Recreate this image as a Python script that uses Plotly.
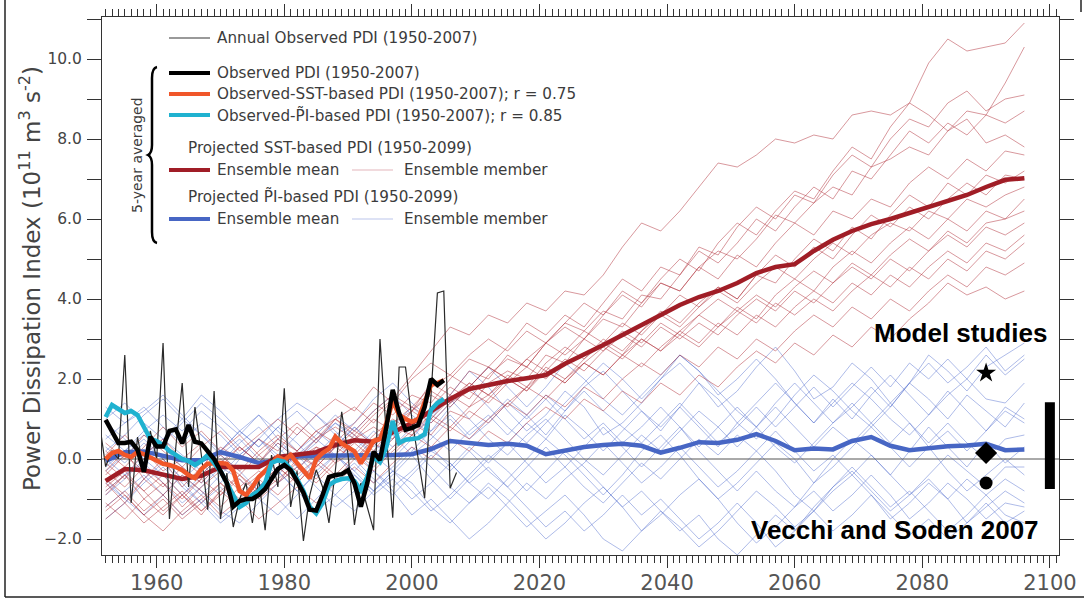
import plotly.graph_objects as go

# ---------------------------------------------------------------- data
# Annual observed PDI, 1951-2007 (10^11 m^3 s^-2 anomaly)
ANNUAL_YEARS = list(range(1951, 2008))
ANNUAL_PDI = [0.93, -0.19, 0.2, 0.0, 2.6, -1.1, 0.55, -0.3, 0.7, 0.0,
              2.9, -1.5, 0.3, 1.9, -0.7, 1.3, 0.1, -1.27, 1.7, -1.5,
              -0.35, -1.7, -1.0, -0.6, -1.6, -0.5, -1.78, 0.1, -0.7, 1.77,
              -1.2, -0.3, -2.05, -0.9, -0.27, -0.7, -1.6, -0.3, 1.18, 0.1,
              -1.65, -0.6, -1.2, -1.78, 3.0, 0.6, -1.47, 2.3, 2.3, 1.0,
              0.0, -0.98, 1.6, 4.15, 4.2, -0.73, -0.34]

# 5-year averaged observed series, 1952-2005
OBS_YEARS = list(range(1952, 2006))
OBS_PDI = [0.98, 0.7, 0.4, 0.4, 0.43, 0.23, -0.32, 0.56, 0.31, 0.31,
           0.7, 0.74, 0.39, 0.85, 0.43, 0.39, 0.2, 0.0, -0.3, -0.6,
           -1.19, -1.05, -1.0, -1.0, -0.9, -0.75, -0.5, -0.25, -0.15, -0.28,
           -0.55, -0.85, -1.27, -1.29, -0.9, -0.45, -0.4, -0.38, -0.28, -0.61,
           -1.19, -0.61, 0.18, -0.03, 0.8, 1.73, 1.15, 0.73, 0.78, 0.85,
           1.3, 2.0, 1.85, 1.97]
OBS_SST_PDI = [0.0, 0.15, 0.2, 0.1, 0.05, 0.18, 0.12, 0.05, -0.05, -0.12,
               -0.15, -0.2, -0.28, -0.4, -0.48, -0.25, -0.12, -0.1, -0.1, -0.12,
               -0.3, -0.8, -0.9, -0.7, -0.45, -0.3, -0.1, 0.06, -0.03, 0.1,
               -0.1, -0.3, -0.48, 0.0, 0.15, 0.25, 0.56, 0.39, 0.28, 0.19,
               -0.11, 0.19, 0.45, 0.5, 0.9, 1.45, 1.1, 1.0, 0.93, 1.0,
               1.4, 1.85, 1.9, 1.97]
OBS_PI_PDI = [1.05, 1.35, 1.25, 1.15, 1.2, 1.1, 0.8, 0.5, 0.45, 0.35,
              0.2, 0.1, 0.0, -0.05, -0.15, -0.05, 0.1, -0.1, -0.3, -0.6,
              -0.9, -1.2, -1.1, -0.9, -0.8, -0.6, -0.1, -0.03, -0.07, -0.25,
              -0.5, -0.8, -1.2, -1.36, -1.1, -0.65, -0.55, -0.5, -0.48, -0.55,
              -0.78, -0.45, 0.05, -0.08, 0.3, 0.95, 0.4, 0.48, 0.5, 0.52,
              0.62, 1.23, 1.4, 1.5]

# Projected series (5-year averaged), every third year 1952-2096
PROJ_YEARS = list(range(1952, 2097, 3))
SST_MEAN = [-0.55, -0.25, -0.28, -0.38, -0.5, -0.42, -0.2, -0.2, -0.2, 0.05,
            0.1, 0.17, 0.35, 0.47, 0.43, 0.65, 0.9, 1.2, 1.5, 1.75,
            1.85, 1.95, 2.02, 2.1, 2.38, 2.6, 2.85, 3.1, 3.35, 3.6,
            3.85, 4.05, 4.2, 4.4, 4.65, 4.8, 4.87, 5.2, 5.48, 5.7,
            5.87, 6.0, 6.15, 6.3, 6.45, 6.6, 6.8, 6.98, 7.02]
PI_MEAN = [-0.05, 0.17, 0.19, 0.08, -0.03, -0.03, 0.17, 0.05, -0.1, -0.03,
           0.07, 0.08, 0.08, 0.1, 0.1, 0.1, 0.12, 0.25, 0.45, 0.4,
           0.35, 0.38, 0.33, 0.12, 0.22, 0.3, 0.35, 0.38, 0.33, 0.16,
           0.28, 0.42, 0.4, 0.48, 0.62, 0.45, 0.22, 0.26, 0.24, 0.45,
           0.55, 0.33, 0.22, 0.28, 0.32, 0.34, 0.38, 0.22, 0.24]

SST_RUN_01 = [-0.3, 0.2, -0.5, 0.0, -0.7, -0.2, 0.3, 0.0, 0.5, 0.2, 0.8, 0.4, 1.0, 1.3, 0.9, 1.5, 2.1, 2.7, 3.3, 3.1, 3.6, 3.4, 3.9, 3.7, 4.2, 4.1, 4.6, 5.3, 5.9, 5.7, 6.2, 6.8, 7.4, 7.3, 7.6, 8.0, 7.9, 8.1, 8.0, 8.6, 8.7, 8.6, 8.9, 9.9, 10.5, 10.2, 10.3, 10.4, 10.9]
SST_RUN_02 = [-0.8, -0.4, -1.0, -0.6, -1.2, -0.7, -0.3, -0.8, -0.4, 0.0, -0.3, 0.3, 0.1, 0.6, 0.2, 0.8, 0.6, 1.1, 1.6, 1.3, 1.9, 2.2, 2.0, 2.6, 2.4, 3.0, 3.5, 3.3, 3.9, 4.4, 4.2, 4.8, 5.2, 5.0, 5.5, 6.1, 5.9, 6.4, 6.8, 6.6, 7.3, 7.5, 7.8, 7.6, 8.2, 8.7, 8.6, 9.4, 10.3]
SST_RUN_03 = [-0.1, -0.5, 0.2, -0.3, 0.0, 0.4, -0.2, 0.3, -0.1, 0.5, 0.2, 0.7, 0.4, 0.9, 1.4, 1.1, 1.6, 1.4, 2.0, 2.5, 2.3, 2.8, 3.4, 3.1, 3.6, 3.3, 3.9, 4.5, 4.2, 4.8, 4.6, 5.3, 5.1, 5.8, 6.3, 6.0, 6.6, 6.4, 7.1, 7.6, 7.3, 8.0, 8.5, 8.3, 8.9, 9.2, 8.7, 9.0, 9.1]
SST_RUN_04 = [-0.6, -1.1, -0.5, -0.9, -0.4, -0.8, -1.2, -0.7, -0.3, -0.6, 0.0, 0.3, -0.1, 0.5, 0.8, 0.5, 1.2, 1.9, 1.6, 2.2, 2.0, 2.6, 2.3, 2.9, 3.4, 3.2, 3.7, 3.5, 4.1, 4.0, 4.6, 5.2, 4.9, 5.4, 6.0, 5.7, 6.3, 6.8, 6.5, 7.2, 7.0, 7.6, 8.2, 7.9, 8.4, 8.1, 8.6, 8.4, 8.7]
SST_RUN_05 = [-1.2, -0.8, -1.3, -0.9, -1.4, -1.0, -0.6, -1.1, -0.7, -0.2, -0.6, -0.1, 0.4, 0.1, 0.6, 1.0, 0.7, 1.3, 1.8, 1.5, 2.1, 2.5, 2.3, 2.9, 3.3, 3.0, 3.6, 4.2, 3.9, 4.5, 5.0, 4.7, 5.4, 5.9, 5.6, 6.2, 6.7, 6.5, 7.2, 7.8, 7.5, 8.3, 8.9, 8.6, 8.2, 8.5, 7.9, 8.1, 7.8]
SST_RUN_06 = [0.4, 0.0, 0.6, 0.2, -0.2, 0.3, 0.7, 0.2, 0.6, 1.0, 0.6, 1.1, 1.5, 1.2, 1.8, 1.4, 2.0, 2.4, 2.1, 2.6, 3.0, 2.7, 3.2, 2.9, 3.4, 3.9, 3.6, 4.1, 3.8, 4.4, 4.2, 4.8, 4.5, 5.1, 4.8, 5.4, 5.9, 5.6, 6.2, 6.0, 6.5, 6.3, 6.9, 7.3, 7.0, 7.5, 7.2, 7.7, 7.6]
SST_RUN_07 = [-0.9, -0.4, -0.8, -1.3, -0.9, -1.4, -0.8, -0.4, -0.9, -0.5, -0.1, -0.5, 0.0, 0.4, 0.0, 0.5, 0.9, 0.6, 1.2, 1.0, 1.5, 2.0, 1.7, 2.3, 2.0, 2.5, 2.9, 2.6, 3.2, 3.7, 3.4, 3.9, 4.3, 4.0, 4.6, 4.4, 5.0, 5.5, 5.2, 5.8, 5.5, 6.1, 6.6, 6.3, 6.9, 6.6, 7.1, 6.9, 7.2]
SST_RUN_08 = [-0.3, -0.7, -0.2, -0.6, -1.0, -0.5, -0.9, -0.4, -0.8, -0.3, 0.1, -0.2, 0.3, 0.0, 0.5, 0.9, 1.3, 1.0, 1.5, 1.9, 1.6, 2.1, 1.8, 2.4, 2.8, 2.5, 3.0, 2.7, 3.2, 3.6, 3.3, 3.8, 4.2, 3.9, 4.4, 4.8, 4.5, 5.0, 5.4, 5.1, 5.6, 5.9, 5.7, 6.2, 6.0, 6.5, 6.3, 6.6, 6.8]
SST_RUN_09 = [-1.5, -1.1, -1.6, -1.2, -0.8, -1.3, -0.9, -0.5, -1.0, -0.6, -0.2, -0.6, -0.1, 0.2, -0.2, 0.3, 0.7, 1.1, 0.8, 1.3, 1.6, 1.3, 1.8, 2.2, 1.9, 2.4, 2.1, 2.6, 3.0, 2.7, 3.2, 3.6, 3.3, 3.8, 3.5, 4.1, 4.5, 4.2, 4.8, 5.2, 4.9, 5.4, 5.8, 5.5, 6.0, 5.7, 6.2, 6.0, 6.5]
SST_RUN_10 = [0.1, 0.6, 0.1, 0.5, 0.0, -0.4, 0.1, -0.3, 0.2, 0.6, 0.2, 0.7, 1.0, 0.7, 1.2, 1.6, 1.3, 1.8, 2.1, 1.8, 2.3, 2.0, 2.5, 2.9, 2.6, 3.0, 2.7, 3.2, 2.9, 3.4, 3.1, 3.6, 4.0, 3.7, 4.1, 3.8, 4.3, 4.7, 4.4, 4.9, 4.6, 5.1, 5.5, 5.2, 5.7, 5.4, 5.9, 6.0, 6.2]
SST_RUN_11 = [-0.7, -0.3, -0.8, -0.4, -0.9, -0.5, 0.0, -0.4, 0.1, -0.3, 0.2, -0.2, 0.3, 0.7, 0.4, 0.9, 1.2, 0.9, 1.4, 1.7, 1.4, 1.9, 2.3, 2.0, 2.5, 2.2, 2.7, 3.1, 2.8, 3.3, 3.0, 3.4, 3.1, 3.6, 4.0, 3.7, 4.2, 3.9, 4.4, 4.8, 4.5, 5.0, 4.7, 5.2, 5.6, 5.3, 5.8, 5.6, 5.9]
SST_RUN_12 = [-1.1, -1.5, -1.0, -1.4, -0.9, -1.3, -0.8, -1.2, -0.7, -0.2, -0.6, -0.1, -0.5, 0.0, 0.4, 0.1, 0.6, 1.0, 0.7, 1.2, 0.9, 1.4, 1.8, 1.5, 2.0, 2.4, 2.1, 2.6, 2.3, 2.8, 3.2, 2.9, 3.4, 3.1, 3.6, 3.3, 3.8, 4.2, 3.9, 4.4, 4.1, 4.6, 4.3, 4.8, 5.2, 4.9, 5.4, 5.2, 5.6]
SST_RUN_13 = [0.2, -0.2, 0.3, 0.8, 0.3, 0.7, 0.2, 0.6, 0.1, 0.5, 0.9, 0.5, 1.0, 0.6, 1.1, 1.5, 1.2, 1.7, 1.4, 1.9, 1.6, 2.0, 1.7, 2.2, 1.9, 2.4, 2.8, 2.5, 3.0, 2.7, 3.1, 2.8, 3.3, 3.7, 3.4, 3.9, 3.6, 4.0, 3.7, 4.2, 4.6, 4.3, 4.8, 4.5, 5.0, 4.7, 5.2, 5.0, 5.4]
SST_RUN_14 = [-0.5, -0.9, -1.4, -1.0, -1.5, -1.1, -0.6, -1.0, -0.5, -0.9, -0.4, 0.0, -0.4, 0.1, -0.3, 0.2, 0.6, 0.3, 0.8, 0.5, 1.0, 1.4, 1.1, 1.6, 1.3, 1.8, 1.5, 2.0, 2.4, 2.1, 2.6, 2.3, 2.8, 2.5, 3.0, 2.7, 3.2, 3.6, 3.3, 3.8, 3.5, 4.0, 3.7, 4.2, 4.6, 4.3, 4.8, 4.6, 4.9]
SST_RUN_15 = [-1.3, -0.9, -1.4, -1.8, -1.3, -0.9, -1.4, -1.0, -1.5, -1.1, -0.7, -1.1, -0.6, -0.2, -0.6, -0.1, 0.3, 0.0, 0.5, 0.2, 0.7, 0.4, 0.9, 1.3, 1.0, 1.5, 1.2, 1.7, 1.4, 1.9, 1.6, 2.1, 1.8, 2.3, 2.7, 2.4, 2.9, 2.6, 3.1, 2.8, 3.3, 3.0, 3.5, 3.9, 4.4, 4.1, 4.3, 4.0, 4.2]
SST_RUN_16 = [-0.4, 0.1, -0.3, -0.7, -0.2, -0.6, -0.1, 0.3, -0.1, 0.4, 0.0, 0.5, 0.8, 0.5, 1.0, 0.7, 1.2, 1.6, 1.3, 1.8, 2.3, 2.0, 2.5, 2.2, 2.7, 3.2, 2.9, 3.4, 3.1, 3.6, 4.1, 3.8, 4.3, 4.0, 4.6, 5.1, 4.8, 5.3, 5.0, 5.6, 6.1, 5.8, 6.3, 6.0, 6.5, 6.9, 6.6, 7.1, 7.0]

PI_RUN_01 = [0.5, 0.9, 1.3, 0.8, 0.4, 0.9, 0.6, 0.1, 0.5, 1.0,
             1.4, 1.1, 0.6, 0.9, 1.5, 1.9, 1.4, 1.0, 1.6, 2.2,
             1.8, 1.2, 0.7, 1.1, 1.7, 1.3, 0.6, 0.9, 1.4, 2.0,
             2.4, 1.9, 1.3, 1.7, 2.3, 2.8, 2.2, 1.5, 1.8, 2.4,
             2.0, 1.4, 1.9, 2.6, 2.2, 1.7, 2.3, 2.6, 2.9]
PI_RUN_02 = [-0.8, -0.4, -0.1, -0.6, -1.1, -0.7, -0.2, -0.5, -1.0, -1.4,
             -0.9, -0.3, 0.1, -0.4, -0.8, -0.3, -0.6, -1.2, -1.6, -1.1,
             -0.6, -1.0, -1.5, -2.0, -1.6, -1.1, -0.7, -1.2, -1.8, -1.4,
             -0.9, -0.5, -1.0, -1.6, -2.1, -1.7, -1.2, -0.8, -1.3, -0.9,
             -0.4, -0.9, -1.5, -1.1, -0.6, -1.0, -1.5, -1.1, -1.2]
PI_RUN_03 = [1.3, 0.9, 1.2, 1.6, 1.1, 0.6, 0.2, 0.7, 1.1, 0.5,
             0.0, 0.4, 0.9, 0.6, 0.1, -0.3, 0.2, 0.7, 1.1, 0.6,
             1.0, 1.5, 1.1, 0.6, 1.2, 1.8, 2.2, 1.7, 1.2, 0.8,
             1.3, 1.9, 1.5, 0.9, 0.5, 1.0, 1.6, 2.1, 1.7, 1.2,
             0.8, 1.3, 1.9, 1.5, 1.0, 1.6, 1.2, 0.8, 1.4]
PI_RUN_04 = [-0.2, 0.2, 0.6, 0.3, -0.2, -0.6, -0.1, 0.4, 0.8, 0.3,
             -0.2, 0.1, 0.6, 0.2, -0.3, -0.7, -0.3, 0.2, -0.1, -0.6,
             -1.0, -0.5, 0.0, 0.5, 0.1, -0.4, -0.9, -0.4, 0.2, 0.6,
             0.1, -0.5, -1.0, -0.6, -0.1, 0.4, 0.0, -0.6, -0.2, 0.3,
             0.8, 0.3, -0.2, 0.3, -0.3, -0.8, -0.4, 0.0, -0.4]
PI_RUN_05 = [-1.2, -0.8, -0.4, -0.9, -1.4, -1.0, -1.5, -1.1, -0.6, -1.0,
             -1.5, -1.0, -0.5, -0.1, -0.6, -0.2, 0.3, -0.2, -0.7, -1.1,
             -0.7, -1.2, -1.7, -1.3, -0.9, -1.4, -2.0, -2.3, -1.8, -1.3,
             -1.7, -2.2, -1.8, -1.3, -0.8, -1.2, -1.7, -1.3, -0.7, -0.3,
             -0.8, -1.3, -0.9, -0.5, -1.0, -1.6, -1.2, -0.8, -1.1]
PI_RUN_06 = [0.9, 0.5, 0.0, 0.4, 0.9, 1.4, 1.0, 0.6, 1.1, 0.7,
             0.2, 0.6, 1.1, 0.7, 1.2, 1.6, 1.1, 0.7, 1.3, 1.8,
             2.3, 1.8, 1.3, 1.8, 2.4, 2.0, 1.5, 1.1, 1.6, 2.1,
             2.6, 2.2, 1.6, 2.0, 2.5, 2.0, 1.4, 0.9, 1.4, 1.9,
             1.5, 1.0, 0.6, 1.1, 1.6, 2.0, 1.5, 1.4, 1.9]
PI_RUN_07 = [-0.5, -1.0, -1.4, -0.9, -0.4, -0.8, -1.3, -1.6, -1.1, -0.6,
             -0.2, -0.7, -1.2, -0.8, -0.3, -0.8, -1.4, -1.0, -1.5, -2.0,
             -1.6, -1.1, -0.6, -1.0, -0.5, -0.1, 0.4, -0.1, -0.6, -0.2,
             0.3, -0.2, -0.7, -0.3, 0.2, -0.3, -0.9, -1.3, -0.8, -0.4,
             -0.9, -1.5, -1.1, -0.6, -1.0, -0.5, -0.9, -0.5, -0.8]
PI_RUN_08 = [0.2, 0.6, 1.1, 1.5, 1.0, 1.6, 1.2, 0.7, 0.3, 0.8,
             0.4, -0.1, 0.3, 0.8, 0.4, 0.0, 0.5, 1.1, 1.5, 1.0,
             0.5, 0.1, 0.6, 1.0, 0.5, 0.0, -0.4, 0.1, 0.6, 0.2,
             0.7, 1.2, 0.8, 0.3, 0.8, 1.4, 1.9, 1.4, 0.9, 1.3,
             1.8, 1.3, 1.9, 2.4, 1.9, 2.3, 2.8, 2.2, 2.6]
PI_RUN_09 = [-1.5, -1.1, -0.6, -0.2, -0.7, -1.1, -1.6, -1.2, -0.7, -0.3,
             -0.8, -0.4, 0.1, -0.3, -0.8, -0.4, 0.1, -0.5, -1.0, -0.5,
             0.0, 0.4, -0.1, -0.6, -0.2, 0.3, 0.8, 0.3, -0.2, 0.3,
             0.8, 0.2, -0.3, -0.8, -0.3, -0.8, -1.2, -0.6, 0.0, 0.5,
             0.1, -0.4, 0.2, 0.8, 0.3, -0.2, 0.4, -0.1, 0.3]
PI_RUN_10 = [0.0, -0.4, 0.1, 0.5, 0.1, -0.3, 0.2, 0.7, 0.3, 0.8,
             1.2, 0.7, 0.3, 0.8, 0.3, 0.8, 1.3, 0.9, 1.4, 1.8,
             1.3, 0.8, 0.4, 0.9, 1.4, 1.9, 2.4, 2.0, 1.5, 2.0,
             2.6, 2.2, 1.7, 1.2, 0.8, 1.3, 0.8, 0.3, 0.8, 0.4,
             0.9, 1.4, 0.9, 0.4, 0.9, 0.4, 0.0, 0.5, 0.6]
PI_RUN_11 = [-0.9, -0.5, 0.0, -0.4, -0.9, -0.4, 0.1, -0.3, -0.8, -0.3,
             0.1, -0.4, -0.9, -1.3, -0.8, -0.3, -0.8, -1.3, -0.9, -0.4,
             0.1, -0.3, -0.8, -0.3, 0.2, -0.2, -0.7, -1.2, -0.8, -1.3,
             -1.8, -1.4, -2.0, -2.4, -1.9, -1.4, -1.8, -1.2, -0.7, -0.2,
             -0.7, -1.2, -0.8, -1.3, -1.8, -1.4, -0.9, -1.4, -1.6]
PI_RUN_12 = [0.6, 0.2, 0.7, 1.1, 0.7, 1.2, 0.8, 0.3, -0.1, 0.4,
             0.0, 0.5, 0.9, 0.5, 0.1, 0.5, 1.0, 0.6, 0.2, 0.7,
             1.1, 0.6, 1.1, 1.6, 1.2, 1.7, 1.2, 0.8, 0.4, 0.9,
             1.4, 0.9, 0.4, 0.8, 1.3, 0.8, 1.3, 1.8, 1.3, 1.8,
             2.3, 1.8, 2.4, 2.0, 2.5, 2.0, 2.6, 2.1, 2.5]
PI_RUN_13 = [-0.3, 0.1, 0.5, 0.0, -0.5, -0.9, -0.4, 0.1, 0.5, 0.0,
             -0.5, 0.0, 0.4, 0.0, -0.5, -0.9, -0.4, 0.1, -0.3, 0.2,
             -0.3, -0.7, -0.2, 0.3, -0.2, -0.7, -1.1, -0.6, -0.1, -0.5,
             0.0, 0.5, 0.1, 0.6, 0.2, 0.7, 0.2, -0.3, 0.1, -0.4,
             0.1, -0.4, -0.9, -0.4, 0.1, -0.3, -0.7, -0.2, -0.2]
PI_RUN_14 = [1.0, 1.4, 0.9, 0.5, 1.0, 0.6, 0.1, 0.5, 0.0, -0.4,
             0.1, 0.5, 0.1, -0.3, 0.2, 0.6, 0.1, 0.5, 1.0, 0.5,
             0.9, 1.4, 1.0, 1.5, 1.0, 0.5, 0.9, 0.4, 0.8, 1.3,
             0.8, 0.3, 0.8, 1.3, 0.8, 0.3, -0.1, 0.4, 0.9, 1.4,
             0.9, 0.4, 0.9, 0.3, 0.7, 0.2, 0.7, 1.2, 0.9]
PI_RUN_15 = [-0.6, -1.0, -0.5, -0.1, -0.6, -1.1, -0.7, -1.2, -0.8, -0.3,
             -0.8, -1.3, -0.9, -0.4, -0.9, -0.5, -1.0, -0.6, -0.1, -0.6,
             -0.2, -0.7, -1.2, -1.7, -1.3, -1.8, -1.4, -0.9, -1.4, -1.0,
             -1.5, -2.0, -1.6, -1.1, -1.6, -2.2, -1.8, -1.3, -1.8, -1.4,
             -0.9, -1.4, -1.9, -1.5, -2.0, -1.6, -1.1, -1.6, -1.3]
PI_RUN_16 = [0.3, -0.1, 0.4, 0.0, -0.5, -0.1, -0.6, 0.0, 0.5, 0.1,
             0.6, 1.1, 0.7, 0.2, 0.7, 0.3, 0.8, 0.3, -0.2, 0.3,
             -0.1, 0.4, 0.9, 0.5, 1.1, 0.7, 0.2, 0.7, 1.2, 0.7,
             1.3, 0.8, 0.3, 0.9, 1.4, 1.9, 1.4, 0.9, 1.5, 1.0,
             1.6, 2.1, 1.6, 1.1, 1.7, 1.2, 0.7, 1.3, 1.0]

SST_RUNS = [SST_RUN_01, SST_RUN_02, SST_RUN_03, SST_RUN_04, SST_RUN_05, SST_RUN_06,
            SST_RUN_07, SST_RUN_08, SST_RUN_09, SST_RUN_10, SST_RUN_11, SST_RUN_12,
            SST_RUN_13, SST_RUN_14, SST_RUN_15, SST_RUN_16]
PI_RUNS = [PI_RUN_01, PI_RUN_02, PI_RUN_03, PI_RUN_04, PI_RUN_05, PI_RUN_06,
           PI_RUN_07, PI_RUN_08, PI_RUN_09, PI_RUN_10, PI_RUN_11, PI_RUN_12,
           PI_RUN_13, PI_RUN_14, PI_RUN_15, PI_RUN_16]

# Model-study estimates of PDI change (plotted near 2090) and their range
STUDY_YEAR = 2090
STUDY_STAR = 2.15
STUDY_DIAMOND = 0.15
STUDY_CIRCLE = -0.6
RANGE_YEAR = 2100
RANGE_LOW = -0.75
RANGE_HIGH = 1.42

X_MIN, X_MAX = 1951.43, 2101.43
Y_MIN, Y_MAX = -2.4, 11.05

# ---------------------------------------------------------------- styling
W, H = 1084, 599
PL, PR, PT, PB = 102, 1059, 17, 555     # plot-area edges in pixels

TXT = "#3c3c3c"
FONT = "DejaVu Sans"
C_SST_RUN = "rgba(175,45,55,0.55)"
C_PI_RUN = "rgba(75,105,205,0.5)"
C_SST_MEAN = "#a01d26"
C_PI_MEAN = "#4766c4"
C_OBS = "#000000"
C_OBS_SST = "#f0562a"
C_OBS_PI = "#1fb2d0"
C_ANNUAL = "#2a2a2a"


def px(x):
    return (x - PL) / (PR - PL)


def py(y):
    return (PB - y) / (PB - PT)


fig = go.Figure()

for run in PI_RUNS:
    fig.add_trace(go.Scatter(x=PROJ_YEARS[:len(run)], y=run, mode="lines",
                             line=dict(color=C_PI_RUN, width=0.9), hoverinfo="skip"))
for run in SST_RUNS:
    fig.add_trace(go.Scatter(x=PROJ_YEARS[:len(run)], y=run, mode="lines",
                             line=dict(color=C_SST_RUN, width=0.9), hoverinfo="skip"))

# zero reference line
fig.add_trace(go.Scatter(x=[X_MIN, X_MAX], y=[0, 0], mode="lines",
                         line=dict(color="#555555", width=1), hoverinfo="skip"))

fig.add_trace(go.Scatter(x=PROJ_YEARS, y=PI_MEAN, mode="lines",
                         line=dict(color=C_PI_MEAN, width=4.5)))
fig.add_trace(go.Scatter(x=PROJ_YEARS, y=SST_MEAN, mode="lines",
                         line=dict(color=C_SST_MEAN, width=4.5)))

fig.add_trace(go.Scatter(x=ANNUAL_YEARS, y=ANNUAL_PDI, mode="lines",
                         line=dict(color=C_ANNUAL, width=1.2)))
fig.add_trace(go.Scatter(x=OBS_YEARS, y=OBS_SST_PDI, mode="lines",
                         line=dict(color=C_OBS_SST, width=4.5)))
fig.add_trace(go.Scatter(x=OBS_YEARS, y=OBS_PI_PDI, mode="lines",
                         line=dict(color=C_OBS_PI, width=4.5)))
fig.add_trace(go.Scatter(x=OBS_YEARS, y=OBS_PDI, mode="lines",
                         line=dict(color=C_OBS, width=4.5)))

# model studies
fig.add_trace(go.Scatter(x=[STUDY_YEAR], y=[STUDY_STAR], mode="markers",
                         marker=dict(symbol="star", size=15, color="black")))
fig.add_trace(go.Scatter(x=[STUDY_YEAR], y=[STUDY_DIAMOND], mode="markers",
                         marker=dict(symbol="diamond", size=17, color="black")))
fig.add_trace(go.Scatter(x=[STUDY_YEAR], y=[STUDY_CIRCLE], mode="markers",
                         marker=dict(symbol="circle", size=13, color="black")))
fig.add_trace(go.Scatter(x=[RANGE_YEAR, RANGE_YEAR], y=[RANGE_LOW, RANGE_HIGH], mode="lines",
                         line=dict(color="black", width=10)))

# ---------------------------------------------------------------- legend block
shapes = []
annotations = []
LEG_SIZE = 15.2


def legend_line(x0, x1, y, color, width):
    shapes.append(dict(type="line", xref="paper", yref="paper",
                       x0=px(x0), x1=px(x1), y0=py(y), y1=py(y),
                       line=dict(color=color, width=width)))


def legend_text(x, y, text):
    annotations.append(dict(xref="paper", yref="paper", x=px(x), y=py(y),
                            xanchor="left", yanchor="middle", showarrow=False,
                            text=text, font=dict(family=FONT, size=LEG_SIZE, color=TXT)))


LX0, LX1, LT = 169, 210, 215
legend_line(LX0, LX1, 38, "#777777", 1.3)
legend_text(LT, 38, "Annual Observed PDI (1950-2007)")
legend_line(LX0, LX1, 73, C_OBS, 4)
legend_text(LT, 73, "Observed PDI (1950-2007)")
legend_line(LX0, LX1, 94, C_OBS_SST, 4)
legend_text(LT, 94, "Observed-SST-based PDI (1950-2007); r = 0.75")
legend_line(LX0, LX1, 115, C_OBS_PI, 4)
legend_text(LT, 115, "Observed-P\u0303I-based PDI (1950-2007); r = 0.85")
legend_text(186, 148, "Projected SST-based PDI (1950-2099)")
legend_line(LX0, LX1, 170, C_SST_MEAN, 4)
legend_text(LT, 170, "Ensemble mean")
legend_line(352, 393, 170, "rgba(200,110,120,0.5)", 1.2)
legend_text(402, 170, "Ensemble member")
legend_text(186, 197, "Projected P\u0303I-based PDI (1950-2099)")
legend_line(LX0, LX1, 219, C_PI_MEAN, 4)
legend_text(LT, 219, "Ensemble mean")
legend_line(352, 393, 219, "rgba(120,140,215,0.5)", 1.2)
legend_text(402, 219, "Ensemble member")


def pt(x, y):
    return f"{px(x):.5f},{py(y):.5f}"


brace = (f"M {pt(157, 67)} Q {pt(152, 68)} {pt(152, 78)} L {pt(152, 145)} "
         f"Q {pt(152, 153)} {pt(148, 155)} Q {pt(152, 157)} {pt(152, 165)} "
         f"L {pt(152, 232)} Q {pt(152, 242)} {pt(157, 243)}")
shapes.append(dict(type="path", xref="paper", yref="paper", path=brace,
                   line=dict(color="black", width=2.5)))
annotations.append(dict(xref="paper", yref="paper", x=px(137), y=py(155),
                        textangle=-90, showarrow=False, xanchor="center", yanchor="middle",
                        text="5-year averaged", font=dict(family=FONT, size=14, color=TXT)))

# y-axis title
annotations.append(dict(xref="paper", yref="paper", x=px(30), y=py(279),
                        textangle=-90, showarrow=False, xanchor="center", yanchor="middle",
                        text="Power Dissipation Index (10<sup>11</sup> m<sup>3</sup> s<sup>-2</sup>)",
                        font=dict(family=FONT, size=23, color="#444444")))

# labels for the model-study markers
annotations.append(dict(xref="paper", yref="paper", x=px(1049), y=py(333),
                        xanchor="right", yanchor="middle", showarrow=False,
                        text="<b>Model studies</b>",
                        font=dict(family="Liberation Sans", size=26, color="black")))
annotations.append(dict(xref="paper", yref="paper", x=px(1041), y=py(530),
                        xanchor="right", yanchor="middle", showarrow=False,
                        text="<b>Vecchi and Soden 2007</b>",
                        font=dict(family="Liberation Sans", size=26, color="black")))

# outer frame
for x0, y0, x1, y1 in [(5, 0, 5, 597), (5, 597, 1084, 597), (1081, 0, 1081, 12)]:
    shapes.append(dict(type="line", xref="paper", yref="paper",
                       x0=px(x0), x1=px(x1), y0=py(y0), y1=py(y1),
                       line=dict(color="#222222", width=1.5)))

fig.update_layout(
    width=W, height=H,
    margin=dict(l=PL, r=W - PR, t=PT, b=H - PB, pad=0, autoexpand=False),
    paper_bgcolor="white", plot_bgcolor="white",
    showlegend=False,
    shapes=shapes, annotations=annotations,
    xaxis=dict(range=[X_MIN, X_MAX], tick0=1960, dtick=20, automargin=False,
               ticks="outside", ticklen=12, tickwidth=1, tickcolor="#333333",
               minor=dict(dtick=1, ticks="outside", ticklen=7, tickwidth=1,
                          tickcolor="#333333", showgrid=False),
               showline=True, linecolor="#333333", linewidth=1, mirror="ticks",
               showgrid=False, zeroline=False, ticklabelstandoff=-3,
               tickfont=dict(family=FONT, size=21, color="#555555")),
    yaxis=dict(range=[Y_MIN, Y_MAX], tick0=0, dtick=2, tickformat=".1f", automargin=False,
               ticks="outside", ticklen=14, tickwidth=1, tickcolor="#333333",
               minor=dict(dtick=1, ticks="outside", ticklen=14, tickwidth=1,
                          tickcolor="#333333", showgrid=False),
               showline=True, linecolor="#333333", linewidth=1, mirror="ticks",
               showgrid=False, zeroline=False, ticklabelstandoff=2,
               tickfont=dict(family=FONT, size=15.5, color="#444444")),
)

fig.write_html("out.html")
